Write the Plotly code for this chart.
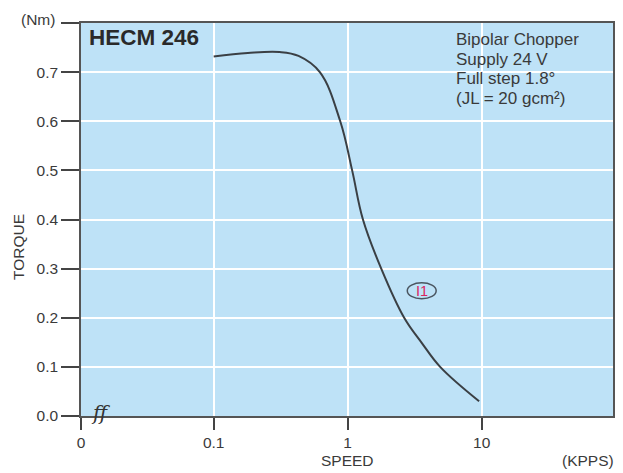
import numpy as np
import plotly.graph_objects as go

# Data
speed_kpps = [0.1, 0.18, 0.31, 0.43, 0.62, 0.88, 1.08, 1.30, 1.78, 2.64, 3.57, 4.9, 9.57]
torque_nm = [0.732, 0.739, 0.741, 0.733, 0.70, 0.60, 0.50, 0.40, 0.30, 0.20, 0.149, 0.10, 0.030]

x_tick_vals = [10 ** -1.99, 0.1, 1, 10]
x_tick_text = ["0", "0.1", "1", "10"]
y_tick_vals = [0.0, 0.1, 0.2, 0.3, 0.4, 0.5, 0.6, 0.7, 0.8]
y_tick_text = ["0.0", "0.1", "0.2", "0.3", "0.4", "0.5", "0.6", "0.7", ""]
y_unit = "(Nm)"

title_text = "HECM 246"
info_lines = ["Bipolar Chopper", "Supply 24 V", "Full step 1.8°", "(JL = 20 gcm²)"]
curve_label = "I1"
curve_label_pos = (3.57, 0.255)

FONT = "Liberation Sans, Arial, sans-serif"
TXT = "#3a3a3a"
BG = "#bee2f7"

X_RANGE = [-1.99, 1.98]
Y_RANGE = [0, 0.8]

# page has an 8px body margin; compensate so the plot lands where the reference's does
OFF = 8
L, R, T, B = 81, 615, 23, 416.5
W, H = 623 - OFF, 473 - OFF
PW, PH = R - L, B - T


def px(x):
    return (x - L) / PW


def py(y):
    return (B - y) / PH


fig = go.Figure()
fig.add_trace(go.Scatter(
    x=speed_kpps, y=torque_nm, mode="lines",
    line=dict(color="#3a3f44", width=2, shape="spline", smoothing=1.1),
    hoverinfo="skip", showlegend=False,
))

fig.update_layout(
    width=W, height=H,
    margin=dict(l=L - OFF, r=W + OFF - R, t=T - OFF, b=H + OFF - B, pad=0),
    paper_bgcolor="white", plot_bgcolor=BG,
    font=dict(family=FONT, color=TXT, size=15),
    showlegend=False,
)
fig.update_xaxes(
    type="log", range=X_RANGE,
    tickvals=x_tick_vals, ticktext=x_tick_text,
    ticks="outside", ticklen=12, tickwidth=1.5, tickcolor="#444",
    showgrid=True, gridcolor="white", gridwidth=1.5,
    showline=True, linecolor="#555", linewidth=1.5, mirror=True,
    zeroline=False, tickfont=dict(size=15.5, color=TXT),
)
fig.update_yaxes(
    range=Y_RANGE,
    tickvals=y_tick_vals, ticktext=y_tick_text,
    ticks="outside", ticklen=18, tickwidth=1.5, tickcolor="#444",
    showgrid=True, gridcolor="white", gridwidth=1.5,
    showline=True, linecolor="#555", linewidth=1.5, mirror=True,
    zeroline=False, tickfont=dict(size=15.5, color=TXT),
)

ann = []
ann.append(dict(text=y_unit, xref="paper", yref="paper",
                x=px(57), y=py(19), xanchor="right", yanchor="middle",
                showarrow=False, font=dict(size=15.5, color=TXT)))
ann.append(dict(text=f"<b>{title_text}</b>", xref="paper", yref="paper",
                x=px(87), y=py(38), xanchor="left", yanchor="middle",
                showarrow=False, font=dict(size=22.5, color="#2a2a2a")))
line_y = [40, 60, 79, 99]
for txt, yy in zip(info_lines, line_y):
    ann.append(dict(text=txt, xref="paper", yref="paper",
                    x=px(455), y=py(yy),
                    xanchor="left", yanchor="middle", showarrow=False,
                    font=dict(size=17, color=TXT)))
ann.append(dict(text="TORQUE", textangle=-90, xref="paper", yref="paper",
                x=px(18), y=py(247),
                xanchor="center", yanchor="middle", showarrow=False,
                font=dict(size=15.5, color=TXT)))
ann.append(dict(text="SPEED", xref="paper", yref="paper",
                x=px(349), y=py(461),
                xanchor="center", yanchor="middle", showarrow=False,
                font=dict(size=15.5, color=TXT)))
ann.append(dict(text="(KPPS)", xref="paper", yref="paper",
                x=px(590), y=py(461),
                xanchor="center", yanchor="middle", showarrow=False,
                font=dict(size=15.5, color=TXT)))
ann.append(dict(text="<i>ff</i>", xref="paper", yref="paper",
                x=px(101), y=py(413),
                xanchor="center", yanchor="middle", showarrow=False,
                font=dict(size=20, color="#333", family="DejaVu Serif, serif")))

# curve label position mapped through the axis ranges into paper coordinates
lab_px = (np.log10(curve_label_pos[0]) - X_RANGE[0]) / (X_RANGE[1] - X_RANGE[0])
lab_py = (curve_label_pos[1] - Y_RANGE[0]) / (Y_RANGE[1] - Y_RANGE[0])
ann.append(dict(text=curve_label, xref="paper", yref="paper",
                x=lab_px, y=lab_py,
                xanchor="center", yanchor="middle", showarrow=False,
                font=dict(size=14.5, color="#dc2460")))
fig.update_layout(annotations=ann)

rx, ry = 14.5 / PW, 8 / PH
fig.add_shape(type="circle", xref="paper", yref="paper",
              x0=lab_px - rx, x1=lab_px + rx, y0=lab_py - ry, y1=lab_py + ry,
              line=dict(color="#4a5560", width=1.5))

fig.write_html("out.html")
